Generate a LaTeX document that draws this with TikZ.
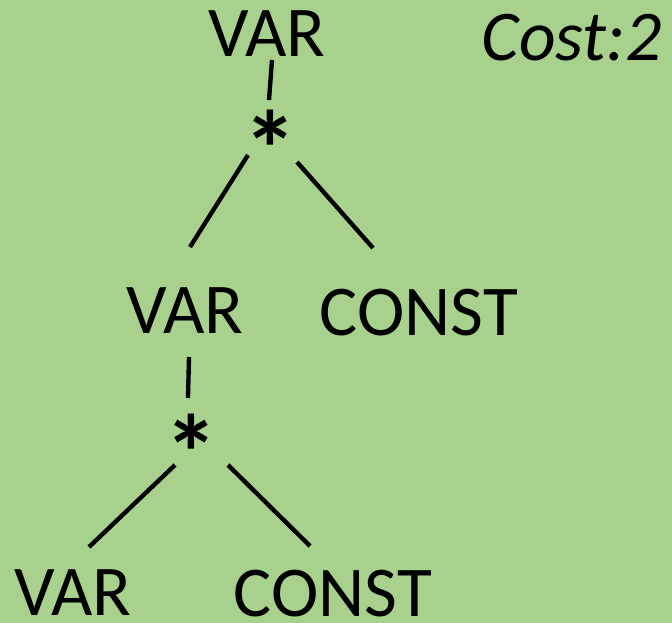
\documentclass[tikz,border=0pt]{standalone}
\usepackage{fontspec}
\setmainfont{Carlito}
\usepackage{xcolor}
\definecolor{bggreen}{HTML}{A9D18E}

\begin{document}
\begin{tikzpicture}[x=0.025cm, y=-0.025cm,
  lbl/.style={inner sep=0pt, anchor=base, font=\fontsize{50.8}{60}\selectfont},
  op/.style={inner sep=0pt, anchor=base, font=\fontsize{77}{80}\selectfont\bfseries},
  edge/.style={line width=3.1pt}]

  % ----- background -----
  \fill[bggreen] (0,0) rectangle (672,623);
  \useasboundingbox (0,0) rectangle (672,623);

  % ----- top level -----
  \node[lbl] at (267,57) (var1) {VAR};
  \node[lbl] at (572,61) (cost) {\textit{Cost:2}};
  \node[op] at (270,188) (mul1) {*};

  % ----- middle level -----
  \node[lbl] at (185,333) (var2) {VAR};
  \node[lbl] at (419,335) (const1) {CONST};
  \node[op] at (191,491) (mul2) {*};

  % ----- bottom level -----
  \node[lbl] at (73,615) (var3) {VAR};
  \node[lbl] at (333,616) (const2) {CONST};

  % ----- edges -----
  \coordinate (e1a) at (272,60);  \coordinate (e1b) at (269,100);
  \coordinate (e2a) at (248,155); \coordinate (e2b) at (190,247);
  \coordinate (e3a) at (297,162); \coordinate (e3b) at (373,248);
  \coordinate (e4a) at (189,357); \coordinate (e4b) at (188,398);
  \coordinate (e5a) at (175,465); \coordinate (e5b) at (89,547);
  \coordinate (e6a) at (228,465); \coordinate (e6b) at (310,546);
  \draw[edge] (e1a) -- (e1b);
  \draw[edge] (e2a) -- (e2b);
  \draw[edge] (e3a) -- (e3b);
  \draw[edge] (e4a) -- (e4b);
  \draw[edge] (e5a) -- (e5b);
  \draw[edge] (e6a) -- (e6b);

\end{tikzpicture}
\end{document}
